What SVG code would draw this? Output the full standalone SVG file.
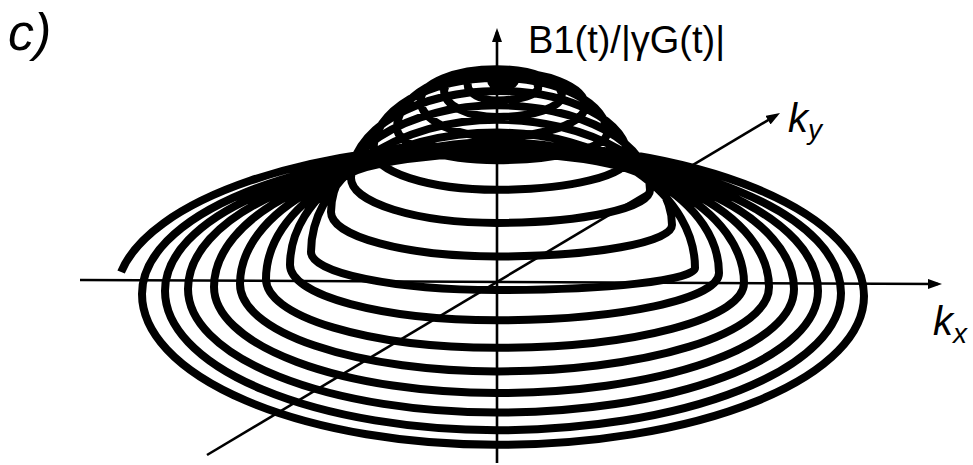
<svg xmlns="http://www.w3.org/2000/svg" width="973" height="465" viewBox="0 0 973 465">
<style>
.ax{fill:none;stroke:#000;stroke-width:2.6}
.sp{fill:none;stroke:#000;stroke-width:8;stroke-linejoin:round}
text{font-family:"Liberation Sans",Arial,sans-serif;fill:#000}
.it{font-style:italic}
</style>
<defs>
<marker id="arr" markerUnits="userSpaceOnUse" markerWidth="14" markerHeight="10" viewBox="0 0 14 10" refX="10" refY="5" orient="auto">
<path d="M0,0 L14,5 L0,10 z" fill="#000"/>
</marker>
</defs>
<g id="spiral">
<path class="sp" d="M497,80 A5.9,0.5 0 0 0 491.1,80.5 A5.9,5.3 0 0 0 497,85.8 A17.6,3.8 0 0 0 514.6,82 A17.6,8.6 0 0 0 497,73.4 A29.4,11.1 0 0 0 467.6,84.5 A29.4,15.9 0 0 0 497,100.4 A41.2,12.9 0 0 0 538.2,87.5 A41.2,17.7 0 0 0 497,69.8 A52.9,21.2 0 0 0 444.1,91 A52.9,26 0 0 0 497,117 A64.7,21.5 0 0 0 561.7,95.5 A64.7,26.3 0 0 0 497,69.2 A76.4,31.3 0 0 0 420.6,100.5 A76.4,36.1 0 0 0 497,136.6 A88.2,30.6 0 0 0 585.2,106 A88.2,34.9 0 0 0 497,71.1 A100,56.9 0 0 0 397,128 A100,32.2 0 0 0 497,160.2 A110,27.2 0 0 0 607,133 A110,55 0 0 0 497,78 A123.5,72 0 0 0 373.5,150 A123.5,39.8 0 0 0 497,189.8 A131,31.8 0 0 0 628,158 A131,67.1 0 0 0 497,90.9 A146,87.1 0 0 0 351,178 A146,44.9 0 0 0 497,222.9 A153,32.9 0 0 0 650,190 A153,84.7 0 0 0 497,105.3 A166,106.7 0 0 0 331,212 A166,44.5 0 0 0 497,256.5 A175,31.5 0 0 0 672,225 A175,105.3 0 0 0 497,119.7 A186,132.3 0 0 0 311,252 A186,38.1 0 0 0 497,290.1 A198,22.1 0 0 0 695,268 A198,135.4 0 0 0 497,132.6 A207,132.4 0 0 0 290,265 A207,55.2 0 0 0 497,320.2 A222,47.2 0 0 0 719,273 A222,131 0 0 0 497,142 A231,137 0 0 0 266,279 A231,68.8 0 0 0 497,347.8 A247,64.8 0 0 0 744,283 A247,134.6 0 0 0 497,148.4 A257,135.6 0 0 0 240,284 A257,87.4 0 0 0 497,371.4 A272,84.4 0 0 0 769,287 A272,135.2 0 0 0 497,151.8 A283,135.2 0 0 0 214,287 A283,106 0 0 0 497,393 A297,104 0 0 0 794,289 A297,135.8 0 0 0 497,153.2 A309,135.8 0 0 0 188,289 A309,123.6 0 0 0 497,412.6 A321,121.6 0 0 0 818,291 A321,138.4 0 0 0 497,152.6 A332,138.4 0 0 0 165,291 A332,139.2 0 0 0 497,430.2 A344,137.2 0 0 0 841,293 A344,143 0 0 0 497,150 A355,144 0 0 0 142,294 A355,150.8 0 0 0 497,444.8 A367,148.8 0 0 0 864,296 A367,151.6 0 0 0 497,144.4 A381,152.6 0 0 0 121.1,272"/>
</g>
<g id="axes">
<line id="axis-b1" class="ax" x1="497" y1="463" x2="497" y2="32" marker-end="url(#arr)"/>
<line id="axis-kx" class="ax" x1="80" y1="280" x2="938" y2="284" marker-end="url(#arr)"/>
<line id="axis-ky" class="ax" x1="207" y1="455" x2="776.6" y2="115.05" marker-end="url(#arr)"/>
</g>
<g id="labels">
<text id="label-c" class="it" x="8" y="50" font-size="52">c)</text>
<text id="label-b1" x="528" y="53" font-size="38">B1(t)/|γG(t)|</text>
<text id="label-ky" class="it" x="788" y="132" font-size="40">k<tspan font-size="28" dy="7">y</tspan></text>
<text id="label-kx" class="it" x="933" y="335" font-size="40">k<tspan font-size="28" dy="8">x</tspan></text>
</g>
</svg>
